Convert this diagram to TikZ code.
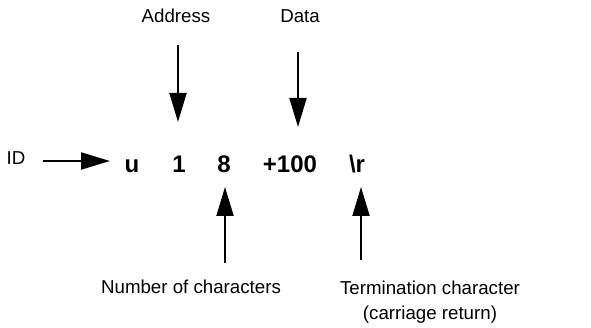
\documentclass[tikz,border=0pt]{standalone}
\usepackage{fontspec}
\setmainfont{Liberation Sans}
\usetikzlibrary{arrows.meta}
\begin{document}
\begin{tikzpicture}[x=1pt,y=-1pt,
  lbl/.style={inner sep=0pt,font=\fontsize{18.7}{25}\selectfont,text height=13.5pt,text depth=0pt},
  tok/.style={inner sep=0pt,font=\fontsize{24}{28}\selectfont\bfseries,text height=18pt,text depth=0pt},
  arr/.style={line width=2pt,-{Triangle[length=29pt,width=17pt]}}]
\useasboundingbox (0,0) rectangle (591,328);
% labels
\node[lbl] (addr) at (176,16) {Address};
\node[lbl] (data) at (300,16) {Data};
\node[lbl] (id) at (16,158) {ID};
\node[lbl] (num) at (191,287) {Number of characters};
\node[lbl,align=center,text height=,text depth=] (term) at (430,302) {Termination character\\(carriage return)};
% tokens
\node[tok] (u) at (132,164) {u};
\node[tok] (one) at (179,164) {1};
\node[tok] (eight) at (224,164) {8};
\node[tok] (val) at (290,164) {+100};
\node[tok] (cr) at (357,164) {\textbackslash r};
% arrows
\draw[arr] ([xshift=2pt,yshift=-29pt]addr.center) -- ([xshift=-1pt,yshift=42pt]one.center);
\draw[arr] ([xshift=-2pt,yshift=-36pt]data.center) -- ([xshift=8pt,yshift=37pt]val.center);
\draw[arr] ([xshift=27pt,yshift=-3pt]id.center) -- ([xshift=-22pt,yshift=3pt]u.center);
\draw[arr] ([xshift=34pt,yshift=24pt]num.center) -- ([xshift=1pt,yshift=-23pt]eight.center);
\draw[arr] ([xshift=-69pt,yshift=42pt]term.center) -- ([xshift=4pt,yshift=-23pt]cr.center);
\end{tikzpicture}
\end{document}
